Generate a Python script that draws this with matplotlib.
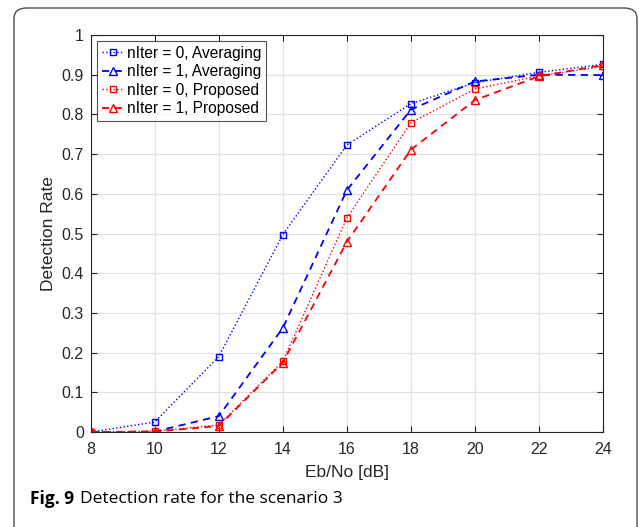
import matplotlib
matplotlib.use("Agg")
import matplotlib.pyplot as plt
from matplotlib.patches import FancyBboxPatch

ebno = [8, 10, 12, 14, 16, 18, 20, 22, 24]
avg_it0 = [0.0, 0.025, 0.19, 0.497, 0.723, 0.827, 0.880, 0.906, 0.926]
avg_it1 = [0.0, 0.001, 0.040, 0.262, 0.609, 0.812, 0.883, 0.900, 0.899]
prop_it0 = [0.0, 0.002, 0.018, 0.178, 0.539, 0.779, 0.864, 0.897, 0.921]
prop_it1 = [0.0, 0.001, 0.015, 0.175, 0.479, 0.711, 0.836, 0.896, 0.924]
labels = ["nIter = 0, Averaging", "nIter = 1, Averaging",
          "nIter = 0, Proposed", "nIter = 1, Proposed"]
xticks = [8, 10, 12, 14, 16, 18, 20, 22, 24]
yticks = [0, 0.1, 0.2, 0.3, 0.4, 0.5, 0.6, 0.7, 0.8, 0.9, 1]
ytick_labels = ["0", "0.1", "0.2", "0.3", "0.4", "0.5", "0.6", "0.7", "0.8", "0.9", "1"]

plt.rcParams['font.family'] = ['Liberation Sans', 'DejaVu Sans']

W, H = 639, 527
fig = plt.figure(figsize=(W / 100, H / 100), dpi=100)

# outer rounded frame
frame = FancyBboxPatch((14 / W, -0.05), (637 - 14) / W, (H - 8) / H + 0.05,
                       boxstyle="round,pad=0,rounding_size=0.02",
                       transform=fig.transFigure, fill=False,
                       edgecolor="#4d4d4d", linewidth=1.0, clip_on=False)
fig.patches.append(frame)

ax = fig.add_axes([90.7 / W, 1 - 432 / H, (603 - 90.7) / W, (432 - 35) / H])

ax.plot(ebno, avg_it0, linestyle=':', color='blue', marker='s', markersize=4.5,
        markerfacecolor='none', linewidth=1.0, label=labels[0])
ax.plot(ebno, avg_it1, linestyle=(0, (4, 3)), color='blue', marker='^', markersize=6,
        markerfacecolor='none', linewidth=1.3, label=labels[1])
ax.plot(ebno, prop_it0, linestyle=':', color='red', marker='s', markersize=4.5,
        markerfacecolor='none', linewidth=1.0, label=labels[2])
ax.plot(ebno, prop_it1, linestyle=(0, (4, 3)), color='red', marker='^', markersize=6,
        markerfacecolor='none', linewidth=1.3, label=labels[3])

ax.set_xlim(8, 24)
ax.set_ylim(0, 1)
ax.set_xticks(xticks)
ax.set_yticks(yticks)
ax.set_yticklabels(ytick_labels)
ax.tick_params(direction='in', top=True, right=True, labelsize=11.5, colors='#262626',
               length=4, width=0.8)
ax.tick_params(axis='x', pad=7)
ax.tick_params(axis='y', pad=5)
ax.grid(True, color='#e0e0e0', linewidth=0.9)
ax.set_axisbelow(True)
for s in ax.spines.values():
    s.set_color('#262626')
    s.set_linewidth(0.8)

ax.set_xlabel("Eb/No [dB]", fontsize=12.5, color='#262626', labelpad=6)
ax.set_ylabel("Detection Rate", fontsize=12.5, color='#262626', labelpad=4)

leg = ax.legend(loc='upper left', fontsize=11.2, frameon=True, fancybox=False,
                edgecolor='#262626', handlelength=1.45, handletextpad=0.2,
                borderpad=0.3, labelspacing=0.22, borderaxespad=0.4)
leg.get_frame().set_linewidth(0.8)

fig.text(30 / W, 1 - 499 / H, "Fig. 9", fontsize=12.5, fontweight='bold',
         family=['Open Sans', 'DejaVu Sans'], va='center', ha='left')
fig.text(80 / W, 1 - 499 / H, "Detection rate for the scenario 3", fontsize=12.5,
         family=['Open Sans', 'DejaVu Sans'], va='center', ha='left')

fig.savefig("out.png", dpi=100)
